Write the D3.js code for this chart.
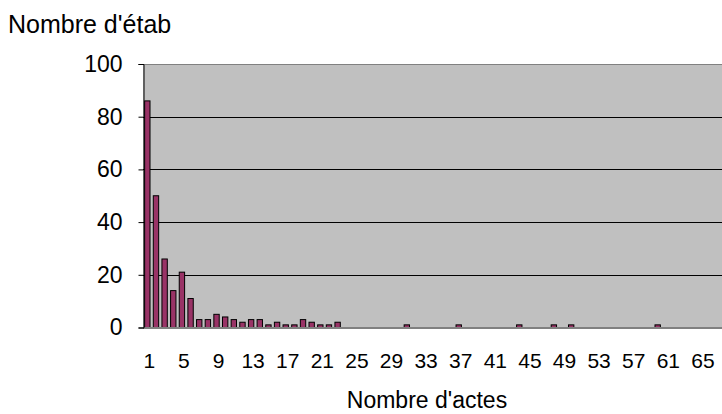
<!DOCTYPE html>
<meta charset="utf-8">
<script src="https://d3js.org/d3.v7.min.js"></script>
<style>
  body { margin: 0; background: #fff; }
  text { font-family: "Liberation Sans", Arial, sans-serif; }
</style>
<svg id="chart" width="722" height="414"></svg>
<script>
  // data : number of establishments per number of acts
  var actes = d3.range(1, 68);
  var counts = {
    1: 86, 2: 50, 3: 26, 4: 14, 5: 21, 6: 11, 7: 3, 8: 3, 9: 5, 10: 4,
    11: 3, 12: 2, 13: 3, 14: 3, 15: 1, 16: 2, 17: 1, 18: 1, 19: 3, 20: 2,
    21: 1, 22: 1, 23: 2, 31: 1, 37: 1, 44: 1, 48: 1, 50: 1, 60: 1
  };
  var etab = actes.map(function(a) { return counts[a] || 0; });
  var yTicks = [0, 20, 40, 60, 80, 100];
  var xTicks = d3.range(1, 68, 4);

  var svg = d3.select("svg");
  var margin = { left: 143, top: 64, bottom: 327.5 };
  var plotRight = 143 + 67 * 8.65;

  var x = d3.scaleBand()
    .domain(actes)
    .range([margin.left, plotRight])
    .paddingInner(0.38)
    .paddingOuter(0.19);

  var y = d3.scaleLinear()
    .domain([0, 100])
    .range([margin.bottom, margin.top]);

  // plot background
  svg.append("rect")
    .attr("x", margin.left)
    .attr("y", margin.top)
    .attr("width", plotRight - margin.left)
    .attr("height", margin.bottom - margin.top)
    .attr("fill", "#c0c0c0");

  // grid lines
  svg.append("g")
    .selectAll("line")
    .data(yTicks.filter(function(d) { return d > 0; }))
    .enter()
    .append("line")
      .attr("x1", margin.left)
      .attr("x2", plotRight)
      .attr("y1", function(d) { return Math.round(y(d)) + 0.5; })
      .attr("y2", function(d) { return Math.round(y(d)) + 0.5; })
      .attr("stroke", function(d) { return d == 100 ? "#808080" : "#000"; })
      .attr("stroke-width", 1);

  // bars
  svg.append("g")
    .selectAll("rect")
    .data(actes)
    .enter()
    .filter(function(d, i) { return etab[i] > 0; })
    .append("rect")
      .attr("x", function(d) { return x(d); })
      .attr("width", x.bandwidth())
      .attr("y", function(d) { return y(counts[d]); })
      .attr("height", function(d) { return y(0) - y(counts[d]); })
      .attr("fill", "#993366")
      .attr("stroke", "#000")
      .attr("stroke-width", 1);

  // x axis line
  svg.append("line")
    .attr("x1", margin.left)
    .attr("x2", plotRight)
    .attr("y1", y(0) + 0.5)
    .attr("y2", y(0) + 0.5)
    .attr("stroke", "#808080")
    .attr("stroke-width", 2);

  // y axis
  var yAxis = svg.append("g")
    .attr("transform", "translate(" + (margin.left + 0.5) + ",0)")
    .call(d3.axisLeft(y).tickValues(yTicks).tickSize(5).tickPadding(16));
  yAxis.select(".domain").attr("stroke", "#000");
  yAxis.selectAll(".tick line").attr("stroke", "#000");
  yAxis.selectAll("text")
    .attr("font-size", "23px")
    .attr("fill", "#000")
    .style("font-family", "Liberation Sans, Arial, sans-serif");

  // x tick labels
  svg.append("g")
    .selectAll("text")
    .data(xTicks)
    .enter()
    .append("text")
      .attr("x", function(d) { return x(d) + x.bandwidth() / 2 + 2; })
      .attr("y", 368)
      .attr("text-anchor", "middle")
      .attr("font-size", "21px")
      .text(function(d) { return d; });

  // axis titles
  svg.append("text")
    .attr("x", 8)
    .attr("y", 33)
    .attr("font-size", "25px")
    .text("Nombre d'étab");

  svg.append("text")
    .attr("x", 427)
    .attr("y", 408)
    .attr("text-anchor", "middle")
    .attr("font-size", "23px")
    .text("Nombre d'actes");
</script>
